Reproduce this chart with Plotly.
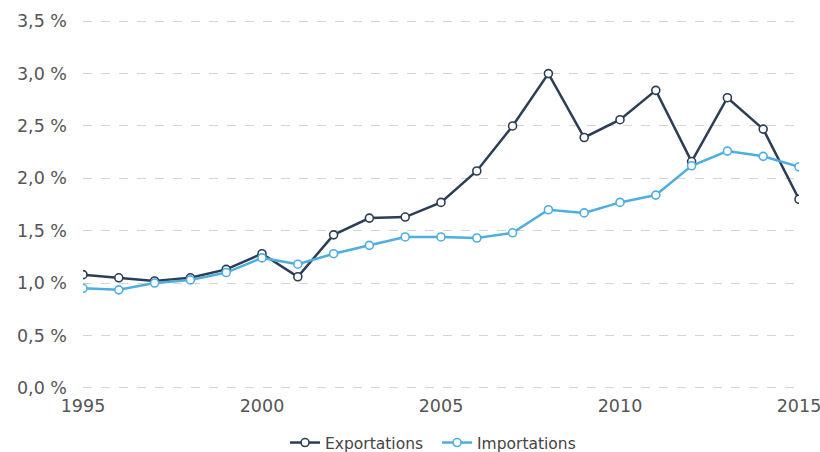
import plotly.graph_objects as go

years = list(range(1995, 2016))
exportations = [1.08, 1.05, 1.02, 1.05, 1.13, 1.28, 1.06, 1.46, 1.62, 1.63, 1.77,
                2.07, 2.50, 3.00, 2.39, 2.56, 2.84, 2.16, 2.77, 2.47, 1.80]
importations = [0.95, 0.935, 1.00, 1.03, 1.10, 1.24, 1.18, 1.28, 1.36, 1.44, 1.44,
                1.43, 1.48, 1.70, 1.67, 1.77, 1.84, 2.12, 2.26, 2.21, 2.11]
y_ticks = [0, 0.5, 1.0, 1.5, 2.0, 2.5, 3.0, 3.5]
y_labels = ["0,0 %", "0,5 %", "1,0 %", "1,5 %", "2,0 %", "2,5 %", "3,0 %", "3,5 %"]
x_ticks = [1995, 2000, 2005, 2010, 2015]

dark = "#2c3e55"
light = "#4eaee0"

fig = go.Figure()
fig.add_trace(go.Scatter(
    x=years, y=exportations, name="Exportations", mode="lines+markers",
    line=dict(color=dark, width=2.5),
    marker=dict(symbol="circle", size=8, color="white", line=dict(color=dark, width=1.6)),
))
fig.add_trace(go.Scatter(
    x=years, y=importations, name="Importations", mode="lines+markers",
    line=dict(color=light, width=2.5),
    marker=dict(symbol="circle", size=8, color="white", line=dict(color=light, width=1.6)),
))

fig.update_layout(
    width=820, height=452,
    margin=dict(l=83, r=21, t=20, b=63, autoexpand=False),
    paper_bgcolor="white", plot_bgcolor="white",
    font=dict(family="DejaVu Sans", color="#555555", size=17),
    showlegend=True,
    legend=dict(orientation="h", x=0.3476, xanchor="left", xref="container",
                y=0.02, yanchor="middle", yref="container",
                itemwidth=30, entrywidth=107,
                font=dict(size=15.5, color="#444444")),
    xaxis=dict(range=[1995, 2015], tickvals=x_ticks, ticktext=[str(t) for t in x_ticks],
               showgrid=False, zeroline=False, showline=False, ticks="",
               automargin=False, ticklabelstandoff=4, ticklabeloverflow="allow",
               tickfont=dict(size=17.5, color="#555555")),
    yaxis=dict(range=[-0.012, 3.512], tickvals=y_ticks, ticktext=y_labels,
               showgrid=True, gridcolor="#d5d5d5", griddash="dash", gridwidth=1,
               zeroline=False, showline=False, ticks="",
               automargin=False, ticklabelstandoff=15, ticklabeloverflow="allow",
               tickfont=dict(size=17.5, color="#555555")),
)

fig.write_html("out.html", config={"displayModeBar": False},
               post_script="document.body.style.margin='0px';")
